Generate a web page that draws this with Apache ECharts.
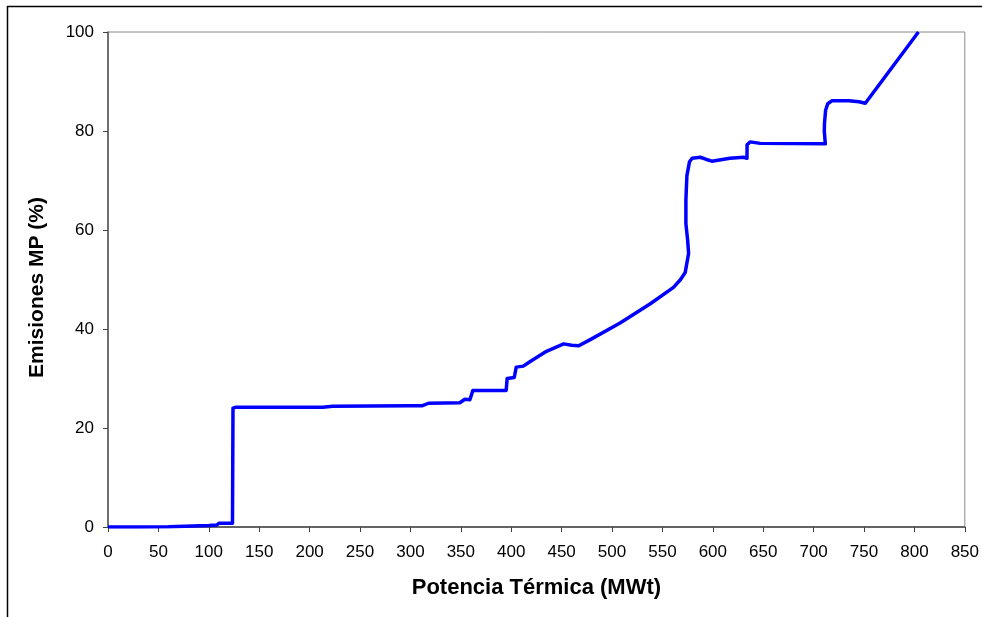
<!DOCTYPE html>
<html>
<head>
<meta charset="utf-8">
<script src="https://cdn.jsdelivr.net/npm/echarts@6/dist/echarts.min.js"></script>
<style>
  html, body { margin: 0; padding: 0; background: #fff; }
  #main { width: 982px; height: 617px; }
</style>
</head>
<body>
<div id="main"></div>
<script>
// potencia térmica (MWt) y emisiones MP (%)
var potencia = [0, 30, 60, 84, 100, 108, 110, 123.5, 124, 127, 160, 213, 223, 300, 312, 318, 349, 354, 359, 362,
    395, 396, 403, 405, 412, 420, 435, 452, 460, 467, 478, 508, 538, 561, 568, 572.6, 576, 575, 573.3, 573.3,
    574.3, 576.9, 579.5, 587.5, 593, 599, 617, 630.5, 633.9, 634, 637, 647, 711.6, 710.6, 710.8, 711.9, 714,
    718, 735, 745, 751.3, 804];
var emisiones = [0, 0, 0.05, 0.2, 0.3, 0.4, 0.75, 0.75, 24.0, 24.2, 24.2, 24.2, 24.4, 24.5, 24.5, 25.0, 25.1, 25.8, 25.7, 27.6,
    27.6, 30.0, 30.2, 32.3, 32.5, 33.6, 35.5, 37.0, 36.7, 36.6, 37.8, 41.2, 45.1, 48.4, 50, 51.4, 55.3, 58, 61.3, 66.1,
    71.0, 73.8, 74.5, 74.7, 74.3, 73.9, 74.5, 74.7, 74.5, 77.2, 77.8, 77.5, 77.4, 80, 81.6, 84.2, 85.5,
    86.1, 86.1, 85.9, 85.6, 100];

var xTicks = { min: 0, max: 850, interval: 50 };
var yTicks = { min: 0, max: 100, interval: 20 };

var chart = echarts.init(document.getElementById('main'));
var font = 'Liberation Sans, Arial, sans-serif';

chart.setOption({
    animation: false,
    backgroundColor: '#fff',
    grid: {
        left: 108, right: 17, top: 32, bottom: 90,
        show: true,
        borderColor: '#888',
        borderWidth: 1
    },
    graphic: [
        { type: 'line', shape: { x1: 7.5, y1: 6, x2: 7.5, y2: 617 }, style: { stroke: '#000', lineWidth: 1.5 } },
        { type: 'line', shape: { x1: 7, y1: 6.5, x2: 982, y2: 6.5 }, style: { stroke: '#000', lineWidth: 1.5 } }
    ],
    xAxis: {
        type: 'value',
        min: xTicks.min, max: xTicks.max, interval: xTicks.interval,
        name: 'Potencia Térmica (MWt)',
        nameLocation: 'middle',
        nameGap: 50,
        nameTextStyle: { fontFamily: font, fontSize: 22, fontWeight: 'bold', color: '#000' },
        axisLine: { show: true, onZero: false, lineStyle: { color: '#444', width: 1.5 } },
        axisTick: { show: true, length: 5, lineStyle: { color: '#444' } },
        axisLabel: { fontFamily: font, fontSize: 17, color: '#000', margin: 17 },
        splitLine: { show: false }
    },
    yAxis: {
        type: 'value',
        min: yTicks.min, max: yTicks.max, interval: yTicks.interval,
        name: 'Emisiones MP (%)',
        nameLocation: 'middle',
        nameGap: 60,
        nameTextStyle: { fontFamily: font, fontSize: 21, fontWeight: 'bold', color: '#000', padding: [0, 16, 0, 0] },
        axisLine: { show: true, lineStyle: { color: '#555', width: 1.5 } },
        axisTick: { show: true, length: 5, lineStyle: { color: '#444' } },
        axisLabel: { fontFamily: font, fontSize: 17, color: '#000', margin: 14 },
        splitLine: { show: false }
    },
    series: [{
        type: 'line',
        data: potencia.map(function (p, i) { return [p, emisiones[i]]; }),
        showSymbol: false,
        smooth: false,
        clip: true,
        lineStyle: { color: '#0000ff', width: 3.5, join: 'round' }
    }]
});
</script>
</body>
</html>
